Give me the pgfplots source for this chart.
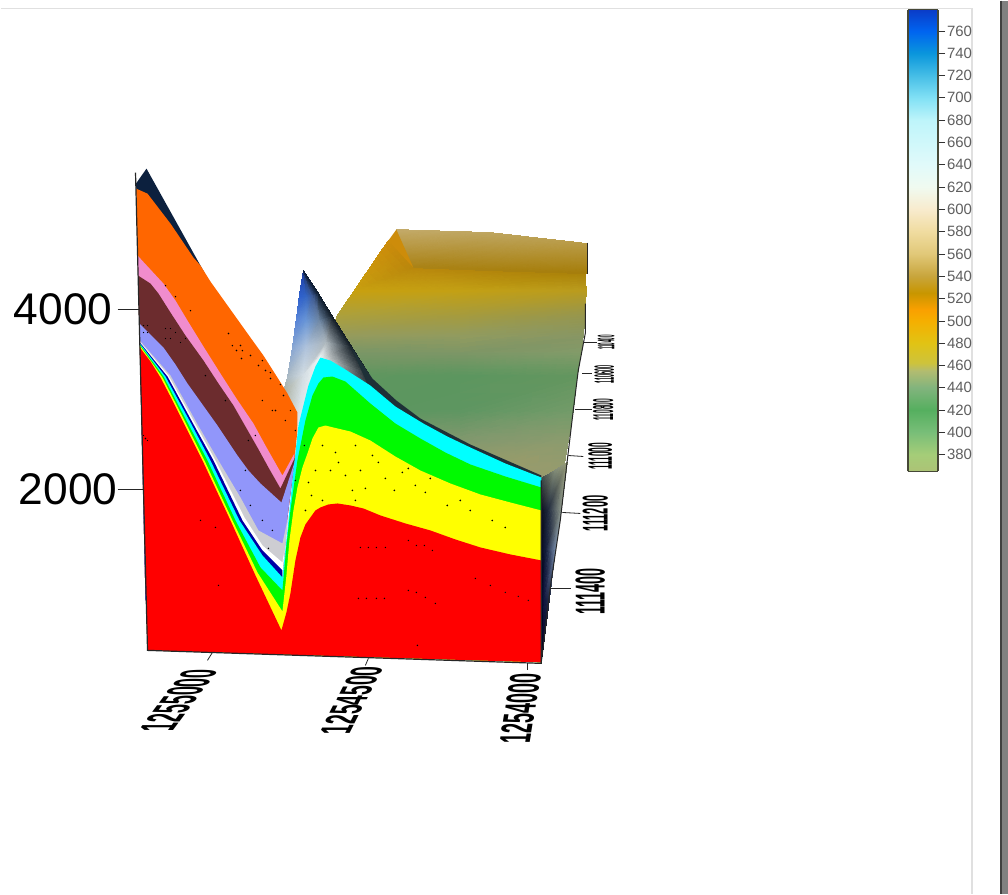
\documentclass[border=0pt]{standalone}
\usepackage{pgfplots}
\pgfplotsset{compat=1.18}
\usepackage{fontspec}
\setmainfont{Liberation Sans}
\newcommand{\band}[2]{\addplot[fill=#1,draw=none,forget plot] coordinates {#2} -- cycle;}
\newcommand{\stroke}[3]{\addplot[draw=#1,line width=#2,forget plot] coordinates {#3};}
\newcommand{\specks}[3]{\addplot[only marks,mark=*,mark size=#2,mark options={draw=none,fill=#1},forget plot] coordinates {#3};}
\definecolor{cnavy}{RGB}{12,32,62}
\definecolor{corange}{RGB}{255,102,0}
\definecolor{cpink}{RGB}{240,140,205}
\definecolor{cbrown}{RGB}{108,44,46}
\definecolor{cperi}{RGB}{145,150,250}
\definecolor{cgrey}{RGB}{205,205,210}
\definecolor{cdblue}{RGB}{0,0,165}
\definecolor{cframe}{RGB}{70,72,55}
\definecolor{ctick}{RGB}{95,95,95}
\definecolor{cwallb}{RGB}{205,140,10}
\definecolor{csl}{RGB}{30,48,55}
\definecolor{cdk}{RGB}{150,50,10}
\definecolor{cpr}{RGB}{255,190,190}
\definecolor{pcyan}{RGB}{0,255,255}
\definecolor{pgreen}{RGB}{0,250,0}
\definecolor{pyellow}{RGB}{255,255,0}
\definecolor{pred}{RGB}{255,0,0}
\begin{document}
\begin{tikzpicture}
\begin{axis}[at={(0,0)},anchor=south west,width=1008bp,height=894bp,scale only axis,
  xmin=0,xmax=1008,ymin=0,ymax=894,y dir=reverse,axis lines=none,clip=false]
\band{white}{(0,0)(1008,0)(1008,894)(0,894)}
% page furniture
\stroke{black!12}{1.2bp}{(0,8)(972,8)(972,894)}
\band{black!50}{(1000,0)(1008,0)(1008,894)(1000,894)}
\stroke{black!75}{1.5bp}{(1001,0)(1001,894)}
% back wall
\addplot[surf,shader=interp,mesh/rows=10,mesh/color input=explicit,forget plot] table[meta=c] {
x y c
388 240 rgb255=205,140,10
413 267 rgb255=185,135,12
585 273 rgb255=170,130,10
354 290 rgb255=200,160,15
460 290 rgb255=195,160,20
586 290 rgb255=185,155,30
337 315 rgb255=172,160,60
460 315 rgb255=165,155,62
585 315 rgb255=150,150,78
330 335 rgb255=150,155,92
460 335 rgb255=145,155,95
583 335 rgb255=135,150,100
330 352 rgb255=122,150,102
460 352 rgb255=125,150,102
581 352 rgb255=130,155,105
330 375 rgb255=95,150,95
460 375 rgb255=92,150,95
577 375 rgb255=100,150,95
330 410 rgb255=92,150,95
460 410 rgb255=95,150,98
573 410 rgb255=115,155,105
330 440 rgb255=125,150,105
460 440 rgb255=130,152,110
568 440 rgb255=140,155,110
330 470 rgb255=150,152,105
460 470 rgb255=155,155,105
563 470 rgb255=150,155,110
330 490 rgb255=155,152,105
460 490 rgb255=155,152,105
560 490 rgb255=150,155,115
};
% top plateau
\addplot[surf,shader=interp,mesh/rows=2,mesh/color input=explicit,forget plot] table[meta=c] {
x y c
396 229 rgb255=195,170,105
490 232 rgb255=190,165,95
587 243 rgb255=185,155,70
413 267 rgb255=170,130,20
490 270 rgb255=168,128,15
586 273 rgb255=165,125,10
};
\band{cwallb}{(396,229)(388,240)(413,267)}
% right hump
\addplot[surf,shader=interp,mesh/rows=6,mesh/color input=explicit,forget plot] table[meta=c] {
x y c
303 270 rgb255=30,60,160
303 270 rgb255=30,60,160
303 270 rgb255=25,50,110
303 270 rgb255=15,30,60
299 295 rgb255=45,95,205
306 295 rgb255=50,100,195
312 295 rgb255=60,90,150
318 293 rgb255=15,30,50
296 318 rgb255=85,130,215
306 320 rgb255=105,150,215
319 320 rgb255=110,135,165
332 316 rgb255=20,30,40
292 347 rgb255=135,165,210
306 347 rgb255=175,195,220
326 342 rgb255=172,182,188
351 346 rgb255=20,30,38
287 377 rgb255=170,185,195
303 375 rgb255=210,220,226
320 357 rgb255=238,243,243
368 373 rgb255=25,35,40
283 392 rgb255=170,175,160
297 425 rgb255=220,230,232
320 358 rgb255=238,243,243
374 390 rgb255=25,35,40
};
\band{csl}{(350,345)(372,378)(396,400)(420,418)(470,444)(541,475)(541,482)(470,452)(420,428)(370,390)}
% right sliver
\addplot[surf,shader=interp,mesh/rows=5,mesh/color input=explicit,forget plot] table[meta=c] {
x y c
541 478 rgb255=60,70,70
555 470 rgb255=130,140,120
567 462 rgb255=150,155,120
541 510 rgb255=10,15,30
548 510 rgb255=30,40,60
561 510 rgb255=135,145,135
541 550 rgb255=5,8,30
546 550 rgb255=20,30,60
555 550 rgb255=110,130,160
541 600 rgb255=0,0,35
544 600 rgb255=15,20,60
549 600 rgb255=30,40,70
541 662 rgb255=0,0,30
541 662 rgb255=0,0,30
541 662 rgb255=0,0,30
};
% upper left bands
\band{cnavy}{(135.4,183)(146,168)(200,265)(204,272)(200,300)(145,300)}
\band{corange}{(135.6,188)(147,193)(170,223)(193,257)(200,265)(210,281)(220,295)(235,316)(250,337)(263,355)(277,377)(287,393)(297,412)(297,430)(293,470)(287,517)(282,575)(282,600)(145,600)}
\band{cpink}{(137.1,255)(150,269)(163,283)(175,300)(187,320)(203,346)(220,373)(236,398)(253,423)(265,445)(282,475)(294,453)(293,470)(287,517)(282,575)(282,600)(145,600)}
\band{cbrown}{(137.6,275)(150,283)(158,293)(170,312)(185,335)(203,360)(218,383)(233,405)(245,426)(257,447)(268,467)(280,488)(295,456)(293,470)(287,517)(282,575)(282,600)(145,600)}
\band{cperi}{(138.8,323)(163,347)(175,364)(187,383)(202,404)(217,425)(237,455)(248,470)(260,483)(281,502)(294,462)(287,517)(282,575)(282,600)(145,600)}
\band{cgrey}{(139.2,340)(170,375)(196,422)(218,460)(240,497)(258,530)(282,543)(288,515)(282,575)(282,600)(145,600)}
\band{white}{(139.3,341)(168,375)(194,422)(215,460)(244,517)(262,545)(282,562)(284,550)(282,575)(282,600)(145,600)}
\band{cdblue}{(139.4,342)(167,376)(192,422)(213,460)(242,520)(262,550)(282,570)(282,600)(145,600)}
% lower nested bands
\band{pcyan}{(139.4,343)(165,376)(190,422)(210,460)(239,520)(262,555)(282,577)(287,530)(292,480)(298,425)(308,385)(315,366)(320,357)(330,360)(345,369)(370,385)(395,406)(423,423)(447,436)(470,447)(505,463)(541,477)(541,662)(147,650)}
\band{pgreen}{(139.4,344)(163,376)(187,422)(207,460)(235,520)(260,567)(282,590)(286,545)(290,510)(297,460)(305,420)(312,395)(318,383)(323,377)(332,376)(345,381)(370,403)(395,423)(420,438)(445,452)(470,464)(505,476)(541,487)(541,662)(147,650)}
\band{pyellow}{(139.4,345)(162,377)(185,422)(204,460)(232,520)(257,572)(282,611)(286,575)(289,540)(293,510)(297,487)(302,467)(307,453)(312,438)(318,427)(325,425)(333,427)(350,431)(370,440)(395,456)(420,470)(450,483)(480,494)(510,502)(541,510)(541,662)(147,650)}
\band{pred}{(139.4,347)(150,361)(160,377)(172,400)(183,422)(202,460)(230,520)(255,575)(281,630)(286,612)(290,593)(295,560)(300,537)(305,524)(310,517)(315,510)(320,507)(328,504)(337,503)(350,505)(363,508)(380,515)(405,523)(430,530)(455,539)(480,547)(510,554)(541,560)(541,662)(147,650)}
% speckle
\specks{black}{0.6bp}{(308,482)(315,470)(322,500)(330,470)(345,475)(352,490)(305,510)(311,495)(338,462)(360,470)(372,455)(385,478)(402,472)(415,485)(430,478)(447,505)(470,510)(322,445)(335,452)(355,445)(378,462)(394,490)(408,468)(425,492)(460,500)(492,520)(505,527)(355,500)(365,488)}
\specks{black}{0.5bp}{(165,285)(175,296)(190,310)(232,345)(242,350)(262,360)(270,372)(280,384)(255,435)(225,400)(295,430)(205,375)(248,440)(272,410)(285,420)(262,400)}
\specks{cdk}{0.6bp}{(236,350)(241,358)(250,355)(258,365)(265,370)(228,333)(270,378)(283,395)(275,410)(240,345)}
\specks{black!15}{0.4bp}{(143,325)(147,325)(143,332)(147,332)(165,328)(170,328)(175,332)(165,338)(170,338)(180,342)(185,338)(143,435)(147,440)(290,410)}
\specks{cpr}{0.5bp}{(360,547)(368,547)(376,547)(385,547)(408,540)(416,545)(424,545)(432,550)(358,598)(366,598)(376,598)(384,598)(408,590)(416,592)(425,597)(435,603)(475,578)(490,585)(505,592)(518,596)(528,600)(200,520)(215,527)(218,585)(417,645)(145,438)}
\specks{black}{0.5bp}{(240,490)(250,505)(245,470)(262,520)(272,530)(268,548)(295,480)(304,445)}
% axis lines
\stroke{black!85}{1.2bp}{(135,172)(147,650)(541,663)(541,480)}
\stroke{black!85}{1bp}{(587,242)(587,273)}
\stroke{black!85}{1bp}{(585,303)(585,333)(578,370)(573,410)(567,460)(560,520)(550,587)(541,662)}
% ticks
\stroke{black!85}{0.8bp}{(117,309)(138,309)}
\stroke{black!85}{0.8bp}{(117,489)(143,489)}
\stroke{black!85}{0.8bp}{(212,652)(207,660)}
\stroke{black!85}{0.8bp}{(368,658)(365,665)}
\stroke{black!85}{0.8bp}{(527,663)(527,670)}
\stroke{black!85}{0.8bp}{(550,588)(571,588)}
\stroke{black!85}{0.8bp}{(562,512)(580,513)}
\stroke{black!85}{0.8bp}{(568,455)(583,456)}
\stroke{black!85}{0.8bp}{(575,409)(592,409)}
\stroke{black!85}{0.8bp}{(582,373)(592,373)}
\stroke{black!85}{0.8bp}{(583,342)(597,342)}
% labels
\node[anchor=east,inner sep=0pt,font=\fontsize{44.5}{44}\selectfont] at (axis cs:112,309) {4000};
\node[anchor=east,inner sep=0pt,font=\fontsize{44.5}{44}\selectfont] at (axis cs:117,489) {2000};
\node[inner sep=0pt,anchor=center,font=\bfseries,cm={1.2,1.6,-5,0,(0,0)}] at (axis cs:178,700) {1255000};
\node[inner sep=0pt,anchor=center,font=\bfseries,cm={0.9,1.75,-4.4,0,(0,0)}] at (axis cs:351,700) {1254500};
\node[inner sep=0pt,anchor=center,font=\bfseries,cm={0.3,1.8,-4.4,0,(0,0)}] at (axis cs:520,708) {1254000};
\node[inner sep=0pt,anchor=center,font=\bfseries,cm={0,1.44,-4.2,0,(0,0)}] at (axis cs:590,591) {111400};
\node[inner sep=0pt,anchor=center,font=\bfseries,cm={0,1.11,-3.6,0,(0,0)}] at (axis cs:595,513) {111200};
\node[inner sep=0pt,anchor=center,font=\bfseries,cm={0,0.84,-3.4,0,(0,0)}] at (axis cs:600,456) {111000};
\node[inner sep=0pt,anchor=center,font=\bfseries,cm={0,0.66,-2.9,0,(0,0)}] at (axis cs:603,409) {110800};
\node[inner sep=0pt,anchor=center,font=\bfseries,cm={0,0.54,-2.8,0,(0,0)}] at (axis cs:604,374) {110600};
\node[inner sep=0pt,anchor=center,font=\bfseries,cm={0,0.45,-2.4,0,(0,0)}] at (axis cs:606,342) {110400};
\end{axis}
% colour bar
\begin{axis}[at={(908bp,423bp)},anchor=south west,width=30bp,height=462bp,scale only axis,
  view={0}{90},xmin=0,xmax=1,ymin=365,ymax=779,
  xtick=\empty,ytick={380,400,...,760},
  axis line style={draw=cframe,line width=1.3bp},
  tick align=outside,yticklabel pos=right,ytick pos=right,
  major tick length=7bp,tick style={draw=black!80,line width=0.7bp},
  yticklabel style={font=\fontsize{15}{15}\selectfont,text=ctick,xshift=-1.5bp},
  /pgf/number format/assume math mode=true,/pgf/number format/fixed,/pgf/number format/1000 sep={},
  colormap={cb}{rgb255(365)=(172,195,118) rgb255(380)=(165,205,120) rgb255(400)=(120,190,120) rgb255(420)=(85,175,95) rgb255(440)=(130,180,125) rgb255(455)=(178,188,112) rgb255(462)=(205,195,60) rgb255(480)=(225,195,20) rgb255(500)=(245,175,0) rgb255(510)=(250,160,0) rgb255(525)=(200,150,0) rgb255(540)=(200,165,60) rgb255(560)=(225,200,120) rgb255(580)=(240,220,160) rgb255(600)=(248,235,205) rgb255(620)=(240,250,240) rgb255(640)=(225,250,250) rgb255(680)=(190,245,250) rgb255(700)=(130,225,245) rgb255(720)=(70,190,230) rgb255(740)=(10,150,220) rgb255(760)=(0,100,240) rgb255(779)=(10,60,200)}]
\addplot3[surf,shader=interp,mesh/rows=2,point meta=y] table {
x y z
0 365 0
1 365 0
0 779 0
1 779 0
};
\end{axis}
\end{tikzpicture}
\end{document}
